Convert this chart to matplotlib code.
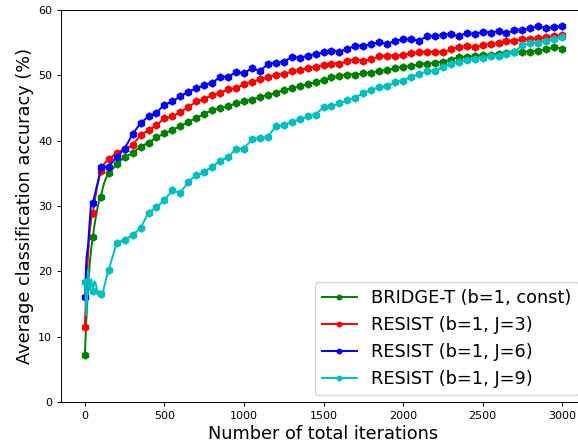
import numpy as np
import matplotlib
matplotlib.use('Agg')
import matplotlib.pyplot as plt

# iterations: dense at the start, then every 50
iters = list(range(0, 160, 10)) + list(range(200, 3050, 50))

bridge_t = [7.2, 13.0, 17.5, 21.0, 23.5, 25.2, 27.0, 28.5, 29.8, 30.8, 31.4, 32.5, 33.4, 34.1, 34.6, 35.0,
            36.4, 37.5, 38.1, 39.1, 39.7, 40.5, 41.1, 41.7, 42.2, 42.9,
            43.5, 44.1, 44.7, 45.0, 45.3, 45.7, 46.0, 46.3, 46.7, 47.0,
            47.3, 47.8, 48.0, 48.4, 48.6, 49.0, 49.3, 49.7, 49.9, 50.1,
            50.1, 50.3, 50.4, 50.7, 50.8, 51.1, 51.3, 51.4, 51.7, 51.8,
            51.9, 52.1, 52.4, 52.8, 52.8, 53.0, 53.1, 53.1, 53.3, 53.4,
            53.6, 53.6, 53.6, 53.8, 54.0, 54.3, 54.1]
resist_j3 = [11.5, 18.0, 22.5, 26.0, 28.0, 28.9, 30.5, 32.0, 33.3, 34.5, 35.3, 36.0, 36.4, 36.7, 37.0, 37.2,
             38.1, 38.8, 39.3, 40.9, 41.6, 42.4, 43.4, 43.7, 44.4, 45.1,
             46.0, 46.4, 47.0, 47.3, 47.9, 48.0, 48.7, 49.0, 49.4, 49.7,
             50.1, 50.2, 50.6, 50.8, 51.1, 51.3, 51.6, 51.8, 51.8, 52.2,
             52.4, 52.2, 52.5, 52.9, 53.0, 53.0, 53.1, 53.4, 53.5, 53.6,
             53.6, 53.5, 54.0, 54.3, 54.5, 54.3, 54.6, 54.8, 54.9, 55.2,
             55.3, 55.5, 55.5, 55.7, 55.8, 56.0, 56.2]
resist_j6 = [16.1, 22.0, 24.0, 27.5, 30.7, 30.5, 31.5, 32.5, 33.5, 34.5, 36.0, 35.5, 35.8, 36.0, 36.2, 36.0,
             37.5, 38.8, 41.0, 42.7, 43.7, 44.3, 45.5, 46.0, 46.8, 47.5,
             48.0, 48.5, 48.9, 49.7, 49.8, 50.5, 50.3, 51.1, 50.7, 51.7,
             51.9, 52.1, 52.8, 52.7, 53.0, 53.3, 53.5, 53.8, 53.6, 54.1,
             54.5, 54.5, 54.8, 55.1, 54.8, 55.3, 55.5, 55.5, 55.3, 56.0,
             56.0, 56.2, 56.3, 56.0, 56.5, 56.3, 56.7, 56.5, 56.8, 56.5,
             56.9, 56.9, 57.3, 57.5, 57.2, 57.4, 57.5]
resist_j9 = [18.3, 13.3, 20.3, 17.2, 18.8, 17.0, 18.5, 18.0, 16.5, 17.0, 16.5, 16.0, 17.5, 18.5, 19.5, 20.2,
             24.4, 24.8, 25.6, 26.6, 29.0, 29.8, 30.9, 32.4, 32.0, 33.7,
             34.7, 35.2, 36.0, 36.9, 37.5, 38.7, 38.8, 40.2, 40.4, 40.6,
             42.2, 42.4, 42.9, 43.3, 43.7, 44.0, 45.1, 45.3, 45.7, 46.2,
             46.6, 47.3, 47.8, 48.2, 48.3, 49.0, 49.2, 49.8, 50.2, 50.6,
             50.7, 51.3, 51.7, 52.1, 52.3, 52.5, 52.6, 52.9, 53.0, 53.3,
             53.6, 54.6, 54.9, 55.0, 55.3, 55.5, 55.8]

labels = ['BRIDGE-T (b=1, const)', 'RESIST (b=1, J=3)', 'RESIST (b=1, J=6)', 'RESIST (b=1, J=9)']
colors = ['g', 'r', 'b', 'c']

x = np.array(iters)
mark = list(x % 50 == 0)  # markers every 50 iterations

fig = plt.figure(figsize=(5.78, 4.44), dpi=100)
ax = fig.add_axes([61 / 578, 42 / 444, 525 / 578, 392 / 444])
for y, lab, c in zip([bridge_t, resist_j3, resist_j6, resist_j9], labels, colors):
    ax.plot(x, y, '-', marker='h', ms=5, lw=1.4, color=c, label=lab, markevery=mark)

ax.set_ylim(0, 60)
ax.tick_params(labelsize=8, length=2.8, width=0.7)
for s in ax.spines.values():
    s.set_linewidth(0.7)
ax.set_xlabel('Number of total iterations', fontsize=12.8, labelpad=3)
ax.set_ylabel('Average classification accuracy (%)', fontsize=12.8, labelpad=3)
ax.legend(loc='lower right', fontsize=12.8, markerscale=0.7, borderaxespad=0.4)
plt.savefig('out.png', dpi=100)
